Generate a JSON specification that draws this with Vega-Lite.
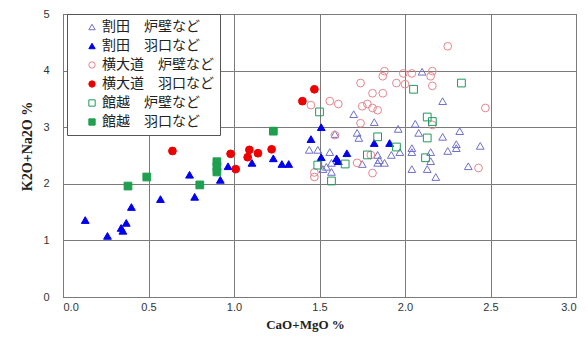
{
  "$schema": "https://vega.github.io/schema/vega-lite/v6.json",
  "width": 513,
  "height": 283,
  "autosize": {"type": "none"},
  "padding": {"left": 63, "top": 14, "right": 12, "bottom": 41},
  "background": "white",
  "config": {
    "view": {"stroke": "#555555", "strokeWidth": 1},
    "axis": {"gridColor": "#7a7a7a", "gridOpacity": 1, "gridWidth": 1, "domain": false, "ticks": false,
      "labelFont": "Liberation Sans", "labelFontSize": 11, "labelColor": "#333333",
      "titleFont": "Liberation Serif", "titleFontSize": 13, "titleFontWeight": "bold", "titleColor": "#222222"}
  },
  "data": {"values": [
    {"x": 2.10, "y": 3.98, "g": "割田　炉壁など"},
    {"x": 2.22, "y": 3.46, "g": "割田　炉壁など"},
    {"x": 1.70, "y": 3.23, "g": "割田　炉壁など"},
    {"x": 1.82, "y": 3.09, "g": "割田　炉壁など"},
    {"x": 1.96, "y": 2.97, "g": "割田　炉壁など"},
    {"x": 2.06, "y": 3.06, "g": "割田　炉壁など"},
    {"x": 2.08, "y": 2.90, "g": "割田　炉壁など"},
    {"x": 2.22, "y": 2.83, "g": "割田　炉壁など"},
    {"x": 2.32, "y": 2.93, "g": "割田　炉壁など"},
    {"x": 2.30, "y": 2.70, "g": "割田　炉壁など"},
    {"x": 2.30, "y": 2.63, "g": "割田　炉壁など"},
    {"x": 2.25, "y": 2.58, "g": "割田　炉壁など"},
    {"x": 2.44, "y": 2.67, "g": "割田　炉壁など"},
    {"x": 2.37, "y": 2.31, "g": "割田　炉壁など"},
    {"x": 2.18, "y": 2.12, "g": "割田　炉壁など"},
    {"x": 2.13, "y": 2.26, "g": "割田　炉壁など"},
    {"x": 2.15, "y": 2.56, "g": "割田　炉壁など"},
    {"x": 2.15, "y": 2.40, "g": "割田　炉壁など"},
    {"x": 2.04, "y": 2.63, "g": "割田　炉壁など"},
    {"x": 2.04, "y": 2.56, "g": "割田　炉壁など"},
    {"x": 2.04, "y": 2.26, "g": "割田　炉壁など"},
    {"x": 1.59, "y": 2.88, "g": "割田　炉壁など"},
    {"x": 1.72, "y": 2.90, "g": "割田　炉壁など"},
    {"x": 1.73, "y": 2.81, "g": "割田　炉壁など"},
    {"x": 1.44, "y": 2.60, "g": "割田　炉壁など"},
    {"x": 1.49, "y": 2.60, "g": "割田　炉壁など"},
    {"x": 1.56, "y": 2.56, "g": "割田　炉壁など"},
    {"x": 1.52, "y": 2.26, "g": "割田　炉壁など"},
    {"x": 1.54, "y": 2.30, "g": "割田　炉壁など"},
    {"x": 1.57, "y": 2.21, "g": "割田　炉壁など"},
    {"x": 1.57, "y": 2.37, "g": "割田　炉壁など"},
    {"x": 1.84, "y": 2.51, "g": "割田　炉壁など"},
    {"x": 1.85, "y": 2.42, "g": "割田　炉壁など"},
    {"x": 1.88, "y": 2.37, "g": "割田　炉壁など"},
    {"x": 1.84, "y": 2.37, "g": "割田　炉壁など"},
    {"x": 1.92, "y": 2.51, "g": "割田　炉壁など"},
    {"x": 1.75, "y": 2.35, "g": "割田　炉壁など"},
    {"x": 1.97, "y": 2.56, "g": "割田　炉壁など"},
    {"x": 0.13, "y": 1.36, "g": "割田　羽口など"},
    {"x": 0.26, "y": 1.08, "g": "割田　羽口など"},
    {"x": 0.34, "y": 1.22, "g": "割田　羽口など"},
    {"x": 0.35, "y": 1.17, "g": "割田　羽口など"},
    {"x": 0.37, "y": 1.31, "g": "割田　羽口など"},
    {"x": 0.40, "y": 1.59, "g": "割田　羽口など"},
    {"x": 0.57, "y": 1.73, "g": "割田　羽口など"},
    {"x": 0.74, "y": 2.16, "g": "割田　羽口など"},
    {"x": 0.77, "y": 1.77, "g": "割田　羽口など"},
    {"x": 0.92, "y": 2.07, "g": "割田　羽口など"},
    {"x": 0.965, "y": 2.31, "g": "割田　羽口など"},
    {"x": 1.105, "y": 2.37, "g": "割田　羽口など"},
    {"x": 1.23, "y": 2.45, "g": "割田　羽口など"},
    {"x": 1.28, "y": 2.35, "g": "割田　羽口など"},
    {"x": 1.32, "y": 2.35, "g": "割田　羽口など"},
    {"x": 1.51, "y": 3.00, "g": "割田　羽口など"},
    {"x": 1.45, "y": 2.79, "g": "割田　羽口など"},
    {"x": 1.51, "y": 2.47, "g": "割田　羽口など"},
    {"x": 1.60, "y": 2.45, "g": "割田　羽口など"},
    {"x": 1.61, "y": 2.40, "g": "割田　羽口など"},
    {"x": 1.66, "y": 2.54, "g": "割田　羽口など"},
    {"x": 1.82, "y": 2.72, "g": "割田　羽口など"},
    {"x": 1.91, "y": 2.72, "g": "割田　羽口など"},
    {"x": 2.25, "y": 4.43, "g": "横大道　炉壁など"},
    {"x": 1.88, "y": 3.99, "g": "横大道　炉壁など"},
    {"x": 1.87, "y": 3.90, "g": "横大道　炉壁など"},
    {"x": 1.99, "y": 3.95, "g": "横大道　炉壁など"},
    {"x": 2.04, "y": 3.95, "g": "横大道　炉壁など"},
    {"x": 2.16, "y": 3.99, "g": "横大道　炉壁など"},
    {"x": 2.15, "y": 3.90, "g": "横大道　炉壁など"},
    {"x": 2.16, "y": 3.73, "g": "横大道　炉壁など"},
    {"x": 1.95, "y": 3.78, "g": "横大道　炉壁など"},
    {"x": 2.00, "y": 3.76, "g": "横大道　炉壁など"},
    {"x": 1.74, "y": 3.78, "g": "横大道　炉壁など"},
    {"x": 1.81, "y": 3.60, "g": "横大道　炉壁など"},
    {"x": 1.87, "y": 3.60, "g": "横大道　炉壁など"},
    {"x": 1.56, "y": 3.46, "g": "横大道　炉壁など"},
    {"x": 1.61, "y": 3.41, "g": "横大道　炉壁など"},
    {"x": 1.45, "y": 3.39, "g": "横大道　炉壁など"},
    {"x": 1.75, "y": 3.37, "g": "横大道　炉壁など"},
    {"x": 1.78, "y": 3.41, "g": "横大道　炉壁など"},
    {"x": 1.81, "y": 3.34, "g": "横大道　炉壁など"},
    {"x": 1.84, "y": 3.30, "g": "横大道　炉壁など"},
    {"x": 1.74, "y": 3.07, "g": "横大道　炉壁など"},
    {"x": 1.59, "y": 2.86, "g": "横大道　炉壁など"},
    {"x": 2.47, "y": 3.34, "g": "横大道　炉壁など"},
    {"x": 2.16, "y": 3.04, "g": "横大道　炉壁など"},
    {"x": 2.43, "y": 2.28, "g": "横大道　炉壁など"},
    {"x": 1.47, "y": 2.20, "g": "横大道　炉壁など"},
    {"x": 1.47, "y": 2.12, "g": "横大道　炉壁など"},
    {"x": 1.72, "y": 2.37, "g": "横大道　炉壁など"},
    {"x": 1.81, "y": 2.19, "g": "横大道　炉壁など"},
    {"x": 1.80, "y": 2.51, "g": "横大道　炉壁など"},
    {"x": 0.64, "y": 2.58, "g": "横大道　羽口など"},
    {"x": 0.98, "y": 2.53, "g": "横大道　羽口など"},
    {"x": 1.01, "y": 2.26, "g": "横大道　羽口など"},
    {"x": 1.08, "y": 2.47, "g": "横大道　羽口など"},
    {"x": 1.09, "y": 2.60, "g": "横大道　羽口など"},
    {"x": 1.14, "y": 2.54, "g": "横大道　羽口など"},
    {"x": 1.22, "y": 2.61, "g": "横大道　羽口など"},
    {"x": 1.40, "y": 3.46, "g": "横大道　羽口など"},
    {"x": 1.47, "y": 3.67, "g": "横大道　羽口など"},
    {"x": 1.50, "y": 3.27, "g": "館越　炉壁など"},
    {"x": 2.05, "y": 3.67, "g": "館越　炉壁など"},
    {"x": 2.33, "y": 3.78, "g": "館越　炉壁など"},
    {"x": 2.13, "y": 3.18, "g": "館越　炉壁など"},
    {"x": 2.16, "y": 3.10, "g": "館越　炉壁など"},
    {"x": 2.13, "y": 2.81, "g": "館越　炉壁など"},
    {"x": 1.84, "y": 2.83, "g": "館越　炉壁など"},
    {"x": 2.12, "y": 2.46, "g": "館越　炉壁など"},
    {"x": 1.49, "y": 2.33, "g": "館越　炉壁など"},
    {"x": 1.57, "y": 2.05, "g": "館越　炉壁など"},
    {"x": 1.65, "y": 2.35, "g": "館越　炉壁など"},
    {"x": 1.78, "y": 2.51, "g": "館越　炉壁など"},
    {"x": 1.95, "y": 2.65, "g": "館越　炉壁など"},
    {"x": 0.38, "y": 1.96, "g": "館越　羽口など"},
    {"x": 0.49, "y": 2.12, "g": "館越　羽口など"},
    {"x": 0.80, "y": 1.98, "g": "館越　羽口など"},
    {"x": 0.90, "y": 2.39, "g": "館越　羽口など"},
    {"x": 0.90, "y": 2.30, "g": "館越　羽口など"},
    {"x": 0.90, "y": 2.21, "g": "館越　羽口など"},
    {"x": 1.23, "y": 2.93, "g": "館越　羽口など"}
  ]},
  "mark": {"type": "point", "size": 60, "strokeWidth": 1, "opacity": 1},
  "encoding": {
    "x": {"field": "x", "type": "quantitative",
      "scale": {"domain": [0, 3], "nice": false, "zero": true},
      "axis": {"values": [0, 0.5, 1, 1.5, 2, 2.5, 3], "format": ".1f", "title": "CaO+MgO  %",
        "labelPadding": 4, "titlePadding": 6, "titleX": 242}},
    "y": {"field": "y", "type": "quantitative",
      "scale": {"domain": [0, 5], "nice": false},
      "axis": {"values": [0, 1, 2, 3, 4, 5], "format": "d", "title": "K2O+Na2O  %",
        "labelPadding": 14, "titleX": -36, "titleY": 132, "titleAngle": -90, "titleBaseline": "middle", "titleAlign": "center", "titleFontSize": 14}},
    "shape": {"field": "g", "type": "nominal",
      "scale": {"domain": ["割田　炉壁など", "割田　羽口など", "横大道　炉壁など", "横大道　羽口など", "館越　炉壁など", "館越　羽口など"],
        "range": ["triangle-up", "triangle-up", "circle", "circle", "square", "square"]},
      "legend": {"title": null}},
    "stroke": {"field": "g", "type": "nominal",
      "scale": {"domain": ["割田　炉壁など", "割田　羽口など", "横大道　炉壁など", "横大道　羽口など", "館越　炉壁など", "館越　羽口など"],
        "range": ["#6f6fcc", "#0000ee", "#e8858f", "#ee0000", "#1f9a5c", "#1f9f4f"]},
      "legend": {"title": null}},
    "fill": {"field": "g", "type": "nominal",
      "scale": {"domain": ["割田　炉壁など", "割田　羽口など", "横大道　炉壁など", "横大道　羽口など", "館越　炉壁など", "館越　羽口など"],
        "range": ["transparent", "#0000ee", "transparent", "#ee0000", "transparent", "#1f9f4f"]},
      "legend": {"title": null, "orient": "none", "legendX": 4, "legendY": 0,
        "fillColor": "white", "strokeColor": "#555555", "padding": 6,
        "labelFont": "Noto Sans CJK JP", "labelFontSize": 14, "labelColor": "#222222",
        "symbolSize": 40, "symbolStrokeWidth": 1, "rowPadding": 5, "labelOffset": 3, "symbolOffset": 12}}
  }
}
